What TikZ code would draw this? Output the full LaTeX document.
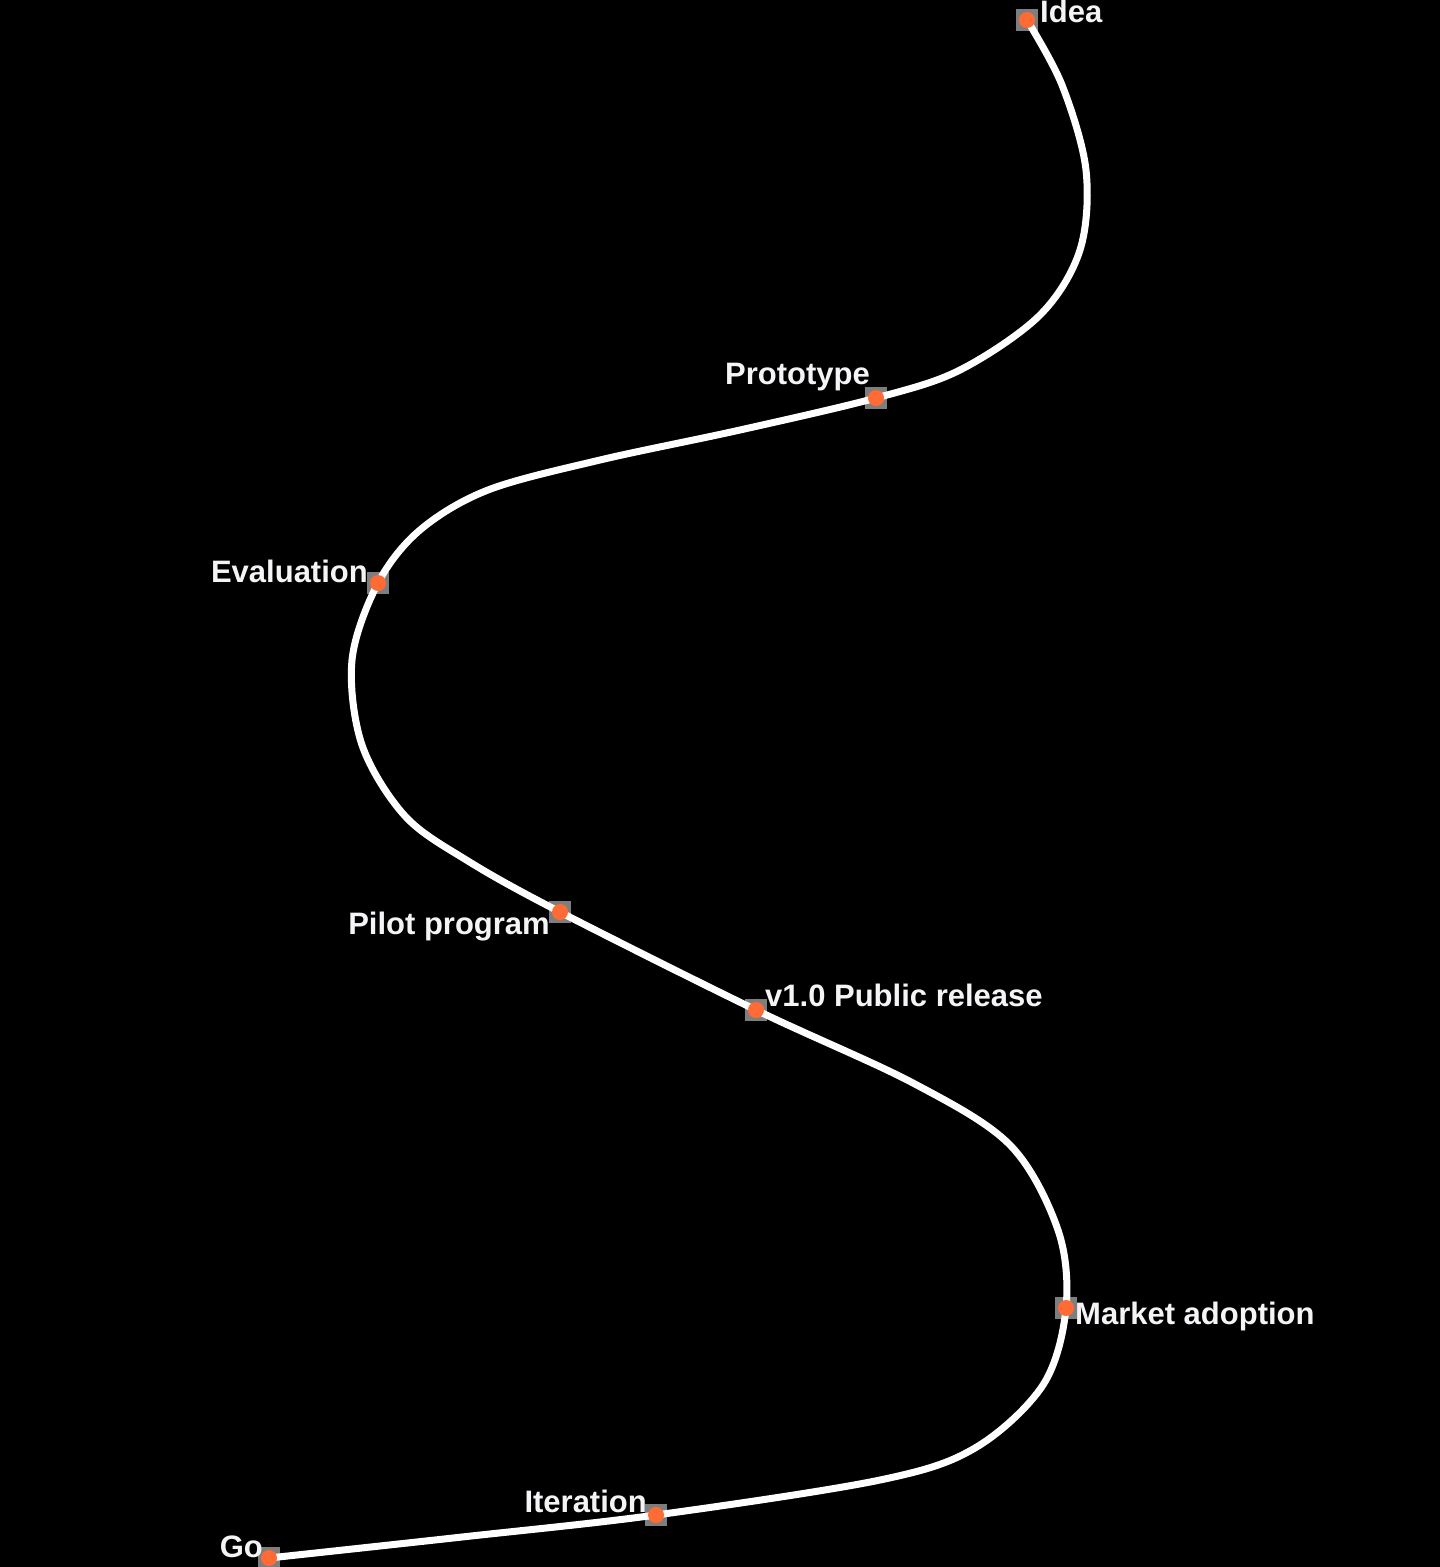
\documentclass[tikz,border=0pt]{standalone}
\usepackage{fontspec}
\setmainfont{Liberation Sans}
\definecolor{milestone}{HTML}{FF6B35}
\definecolor{halogray}{HTML}{7E7E7E}
\definecolor{labeltext}{HTML}{F4F4F6}
\tikzset{
  trail/.style={draw=white, line width=7pt, line join=round},
  mstone/.style={circle, fill=milestone, inner sep=0pt, minimum size=16pt},
  halo/.style={fill=halogray},
  lbl/.style={text=labeltext, inner sep=0pt, font=\fontsize{31}{36}\selectfont\bfseries},
}
\begin{document}
\begin{tikzpicture}[x=1pt,y=-1pt]
  \fill[black] (0,0) rectangle (1440,1567);
  \useasboundingbox (0,0) rectangle (1440,1567);
  % milestones along the road
  \coordinate (idea) at (1027,20);
  \coordinate (proto) at (876,398);
  \coordinate (evalu) at (378,583);
  \coordinate (pilot) at (560,912);
  \coordinate (vone) at (756,1010);
  \coordinate (market) at (1066,1308);
  \coordinate (iter) at (656,1515);
  \coordinate (go) at (269,1558);
  \foreach \m in {idea,proto,evalu,pilot,vone,market,iter,go}
    \fill[halo] ([shift={(-11,-11)}]\m) rectangle ([shift={(11,11)}]\m);
  \draw[trail] plot[smooth, tension=0.55] coordinates {
    (idea) (1062,85) (1086,170) (1080,250) (1040,315) (960,370)
    (proto) (740,430) (600,460) (488,490) (420,530)
    (evalu) (352,660) (362,745) (405,816) (468,861)
    (pilot) (vone) (913,1083) (1010,1145) (1058,1230)
    (market) (1043,1385) (975,1448) (880,1480)
    (iter) (462,1537) (go)};
  \foreach \m in {idea,proto,evalu,pilot,vone,market,iter,go}
    \node[mstone] (d\m) at (\m) {};
  % labels
  \node[lbl, anchor=base west] (lidea) at (1040,22) {Idea};
  \node[lbl, anchor=base east] (lproto) at (870,384) {Prototype};
  \node[lbl, anchor=base east] (levalu) at (368,582) {Evaluation};
  \node[lbl, anchor=base east] (lpilot) at (550,934) {Pilot program};
  \node[lbl, anchor=base west] (lvone) at (765,1006) {v1.0 Public release};
  \node[lbl, anchor=base west] (lmarket) at (1075,1324) {Market adoption};
  \node[lbl, anchor=base east] (liter) at (647,1512) {Iteration};
  \node[lbl, anchor=base east] (lgo) at (263,1557) {Go};
\end{tikzpicture}
\end{document}
